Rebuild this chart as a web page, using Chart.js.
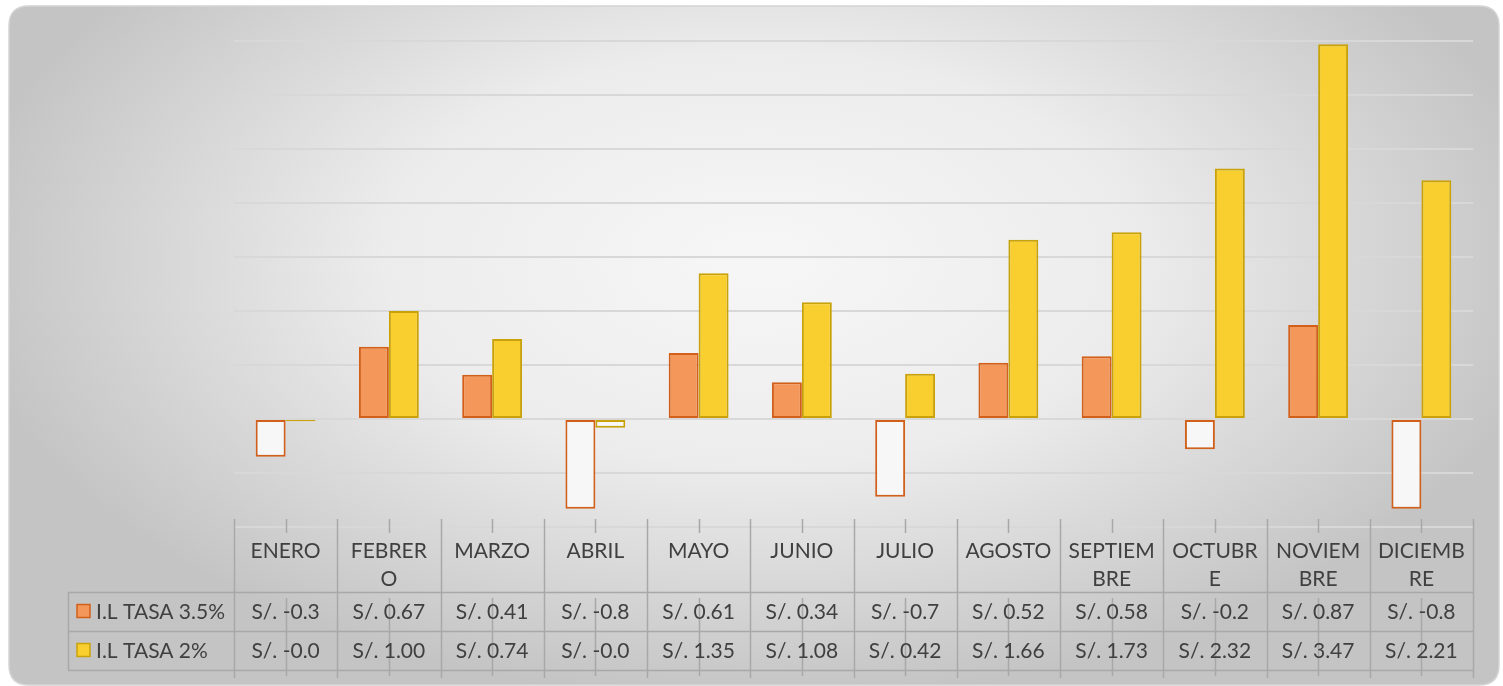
<!DOCTYPE html>
<html>
<head>
<meta charset="utf-8">
<script src="https://cdn.jsdelivr.net/npm/chart.js@4"></script>
<style>
  html, body { margin: 0; padding: 0; background: #fff; }
  #wrap { width: 1503px; height: 686px; position: relative; }
</style>
</head>
<body>
<div id="wrap"><canvas id="c" width="1503" height="686"></canvas></div>
<script>
var meses = ['ENERO', 'FEBRERO', 'MARZO', 'ABRIL', 'MAYO', 'JUNIO', 'JULIO', 'AGOSTO', 'SEPTIEMBRE', 'OCTUBRE', 'NOVIEMBRE', 'DICIEMBRE'];
// label lines as wrapped in the table
var mesesTabla = [['ENERO'], ['FEBRER', 'O'], ['MARZO'], ['ABRIL'], ['MAYO'], ['JUNIO'], ['JULIO'], ['AGOSTO'], ['SEPTIEM', 'BRE'], ['OCTUBR', 'E'], ['NOVIEM', 'BRE'], ['DICIEMB', 'RE']];
var tasa35 = [-0.35, 0.67, 0.41, -0.83, 0.61, 0.34, -0.72, 0.52, 0.58, -0.28, 0.87, -0.83];
var tasa2 = [-0.02, 1.00, 0.74, -0.08, 1.35, 1.08, 0.42, 1.66, 1.73, 2.32, 3.47, 2.21];
var tasa35Texto = ['S/. -0.3', 'S/. 0.67', 'S/. 0.41', 'S/. -0.8', 'S/. 0.61', 'S/. 0.34', 'S/. -0.7', 'S/. 0.52', 'S/. 0.58', 'S/. -0.2', 'S/. 0.87', 'S/. -0.8'];
var tasa2Texto = ['S/. -0.0', 'S/. 1.00', 'S/. 0.74', 'S/. -0.0', 'S/. 1.35', 'S/. 1.08', 'S/. 0.42', 'S/. 1.66', 'S/. 1.73', 'S/. 2.32', 'S/. 3.47', 'S/. 2.21'];
var series = ['I.L TASA 3.5%', 'I.L TASA 2%'];

var naranja = '#f3975a', naranjaBorde = '#d2601a';
var amarillo = '#f8cf2e', amarilloBorde = '#c9a20a';
var fuente = '21px Lato, "Open Sans", sans-serif';
var colorTexto = '#404040';
var colorTabla = '#a8a8a8';

function roundRect(ctx, x, y, w, h, r) {
  ctx.beginPath();
  ctx.moveTo(x + r, y);
  ctx.lineTo(x + w - r, y);
  ctx.quadraticCurveTo(x + w, y, x + w, y + r);
  ctx.lineTo(x + w, y + h - r);
  ctx.quadraticCurveTo(x + w, y + h, x + w - r, y + h);
  ctx.lineTo(x + r, y + h);
  ctx.quadraticCurveTo(x, y + h, x, y + h - r);
  ctx.lineTo(x, y + r);
  ctx.quadraticCurveTo(x, y, x + r, y);
  ctx.closePath();
}

var fondo = {
  id: 'fondo',
  beforeDraw: function(chart) {
    var ctx = chart.ctx;
    ctx.save();
    roundRect(ctx, 9, 6, 1490, 679, 20);
    ctx.save();
    ctx.clip();
    ctx.translate(760, 260);
    ctx.scale(1, 0.55);
    var g = ctx.createRadialGradient(0, 0, 30, 0, 0, 800);
    g.addColorStop(0, '#f6f6f6');
    g.addColorStop(0.45, '#ececec');
    g.addColorStop(1, '#c4c4c4');
    ctx.fillStyle = g;
    ctx.fillRect(-900, -1000, 1800, 2000);
    ctx.restore();
    roundRect(ctx, 9, 6, 1490, 679, 20);
    ctx.strokeStyle = '#d4d4d4';
    ctx.lineWidth = 1.5;
    ctx.stroke();
    ctx.restore();
  }
};

var tabla = {
  id: 'tabla',
  afterDraw: function(chart) {
    var ctx = chart.ctx;
    var x = chart.scales.x;
    var area = chart.chartArea;
    var n = meses.length;
    var paso = (area.right - area.left) / n;
    var topLineas = area.bottom - 8;
    var filaA = area.bottom + 65, filaB = filaA + 39, filaC = filaB + 39;
    var izq = 68;
    ctx.save();
    ctx.strokeStyle = colorTabla;
    ctx.lineWidth = 1.5;
    // vertical cell borders
    for (var i = 0; i <= n; i++) {
      var bx = Math.round(area.left + i * paso) + 0.5;
      ctx.beginPath();
      ctx.moveTo(bx, topLineas);
      ctx.lineTo(bx, filaC + 8);
      ctx.stroke();
    }
    // tick marks and center lines
    for (var i = 0; i < n; i++) {
      var cx = Math.round(x.getPixelForValue(i)) + 0.5;
      ctx.beginPath();
      ctx.moveTo(cx, topLineas);
      ctx.lineTo(cx, area.bottom + 6);
      ctx.moveTo(cx, filaA + 6);
      ctx.lineTo(cx, filaC + 6);
      ctx.stroke();
    }
    // horizontal rows
    [filaA, filaB, filaC].forEach(function(y) {
      ctx.beginPath();
      ctx.moveTo(izq, y + 0.5);
      ctx.lineTo(area.right, y + 0.5);
      ctx.stroke();
    });
    ctx.beginPath();
    ctx.moveTo(izq + 0.5, filaA);
    ctx.lineTo(izq + 0.5, filaC);
    ctx.stroke();

    ctx.fillStyle = colorTexto;
    ctx.font = fuente;
    ctx.textAlign = 'center';
    ctx.textBaseline = 'middle';
    for (var i = 0; i < n; i++) {
      var cx = x.getPixelForValue(i);
      var lineas = mesesTabla[i];
      for (var k = 0; k < lineas.length; k++) {
        ctx.fillText(lineas[k], cx, area.bottom + 24 + k * 28);
      }
      ctx.fillText(tasa35Texto[i], cx, (filaA + filaB) / 2 + 1);
      ctx.fillText(tasa2Texto[i], cx, (filaB + filaC) / 2 + 1);
    }
    // legend keys
    var colores = [[naranja, naranjaBorde], [amarillo, amarilloBorde]];
    var filas = [filaA, filaB];
    ctx.textAlign = 'left';
    for (var s = 0; s < series.length; s++) {
      var yc = filas[s] + 19.5;
      ctx.fillStyle = colores[s][0];
      ctx.strokeStyle = colores[s][1];
      ctx.lineWidth = 1.5;
      ctx.fillRect(77, yc - 7, 13, 13);
      ctx.strokeRect(77, yc - 7, 13, 13);
      ctx.fillStyle = colorTexto;
      ctx.fillText(series[s], 96, yc + 1);
    }
    ctx.restore();
  }
};

function relleno(color) {
  return function(c) { return c.raw < 0 ? '#f7f7f7' : color; };
}

new Chart(document.getElementById('c'), {
  type: 'bar',
  data: {
    labels: meses,
    datasets: [
      { label: series[0], data: tasa35, backgroundColor: relleno(naranja), borderColor: naranjaBorde, borderWidth: 2, borderSkipped: false },
      { label: series[1], data: tasa2, backgroundColor: relleno(amarillo), borderColor: amarilloBorde, borderWidth: 2, borderSkipped: false }
    ]
  },
  options: {
    responsive: false,
    animation: false,
    layout: { padding: { left: 234, right: 30, top: 41, bottom: 159 } },
    datasets: { bar: { categoryPercentage: 0.58, barPercentage: 1.0 } },
    plugins: { legend: { display: false }, tooltip: { enabled: false } },
    scales: {
      x: { display: false },
      y: {
        min: -1, max: 3.5,
        ticks: { display: false, stepSize: 0.5 },
        border: { display: false },
        grid: { color: '#d8d8d8', lineWidth: 2, drawTicks: false }
      }
    }
  },
  plugins: [fondo, tabla]
});
</script>
</body>
</html>
